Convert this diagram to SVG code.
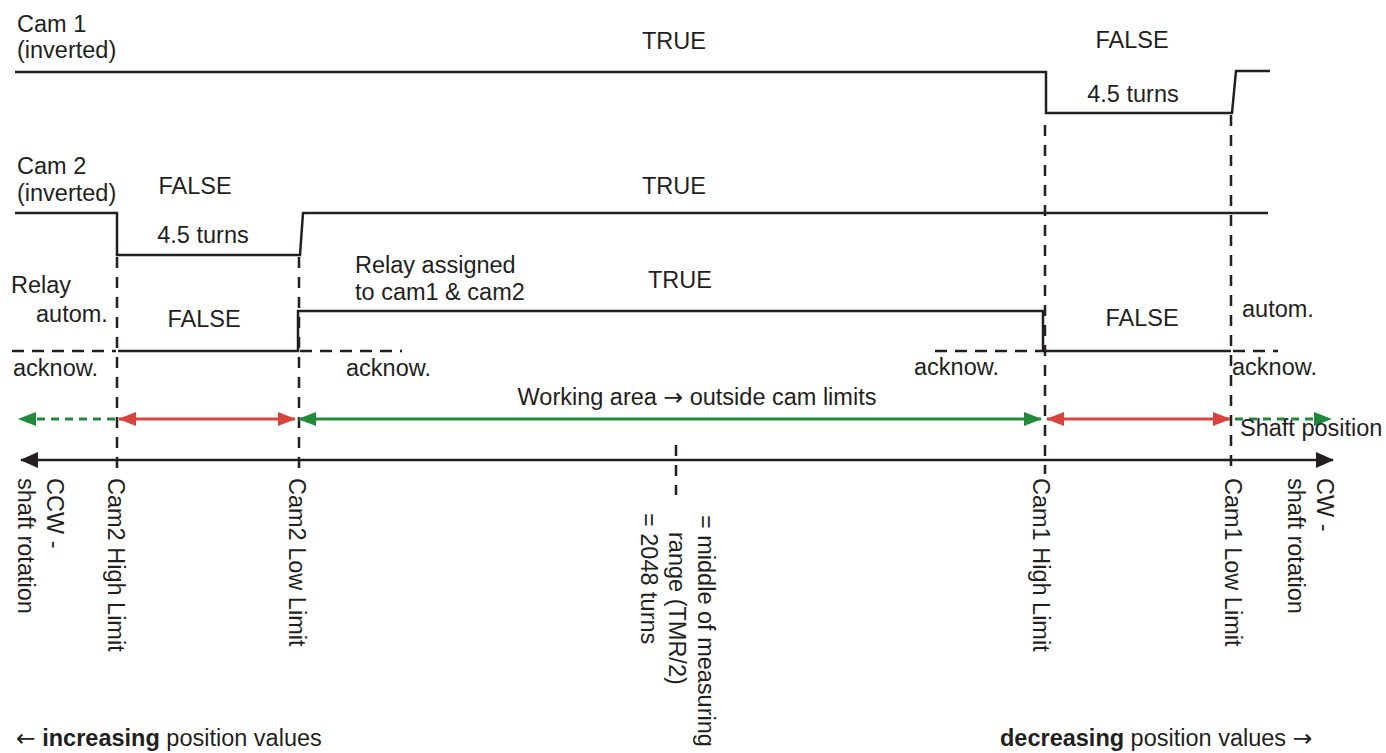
<svg xmlns="http://www.w3.org/2000/svg" width="1386" height="753" viewBox="0 0 1386 753">
<defs>
<style>
text{font-family:"Liberation Sans",Arial,sans-serif;font-size:23.5px;fill:#231f20}
.mid{text-anchor:middle}
.arr{font-family:"DejaVu Sans",sans-serif}
.sig{fill:none;stroke:#231f20;stroke-width:2.5}
.dv{fill:none;stroke:#231f20;stroke-width:2.5;stroke-dasharray:11 9}
.dh{fill:none;stroke:#231f20;stroke-width:2.5;stroke-dasharray:12 8}
.ax{fill:none;stroke:#231f20;stroke-width:2.5}
.red{fill:none;stroke:#d9433f;stroke-width:3}
.grn{fill:none;stroke:#21893a;stroke-width:3}
.grnd{fill:none;stroke:#21893a;stroke-width:3;stroke-dasharray:8 6}
</style>
<marker id="mk" viewBox="0 0 18 16" refX="17" refY="8" markerWidth="18" markerHeight="16" markerUnits="userSpaceOnUse" orient="auto-start-reverse"><path d="M0,0 L18,8 L0,16 z" fill="#231f20"/></marker>
<marker id="mr" viewBox="0 0 18 14" refX="17" refY="7" markerWidth="18" markerHeight="14" markerUnits="userSpaceOnUse" orient="auto-start-reverse"><path d="M0,0 L18,7 L0,14 z" fill="#d9433f"/></marker>
<marker id="mg" viewBox="0 0 18 14" refX="17" refY="7" markerWidth="18" markerHeight="14" markerUnits="userSpaceOnUse" orient="auto-start-reverse"><path d="M0,0 L18,7 L0,14 z" fill="#21893a"/></marker>
</defs>
<rect width="1386" height="753" fill="#ffffff"/>

<g id="connectors">
<path class="sig" d="M15,72 H1046 V113 H1232 L1236,71 H1270"/>
<path class="sig" d="M15,213 H117 V255 H300 L303,213 H1268"/>
<path class="sig" d="M118,351 H298 V311 H1043 V351 H1231"/>
<path class="dh" d="M12,351 H116"/>
<path class="dh" d="M300,351 H402"/>
<path class="dh" d="M935,351 H1042"/>
<path class="dh" d="M1233,351 H1278"/>
<path class="dv" d="M117,257 V474"/>
<path class="dv" d="M299,257 V474"/>
<path class="dv" d="M1045,125 V474"/>
<path class="dv" d="M1231,115 V474"/>
<path class="dv" d="M676,445 V495"/>
<path class="grnd" d="M115,419 H19" marker-end="url(#mg)"/>
<path class="red" d="M119,419 H295" marker-start="url(#mr)" marker-end="url(#mr)"/>
<path class="grn" d="M299,419 H1041" marker-start="url(#mg)" marker-end="url(#mg)"/>
<path class="red" d="M1047,419 H1230" marker-start="url(#mr)" marker-end="url(#mr)"/>
<path class="grnd" d="M1235,419 H1331" marker-end="url(#mg)"/>
<path class="ax" d="M21,460 H1333" marker-start="url(#mk)" marker-end="url(#mk)"/>
</g>

<g id="cam1">
<text x="17" y="32">Cam 1</text>
<text x="17" y="58">(inverted)</text>
<text class="mid" x="674" y="49">TRUE</text>
<text class="mid" x="1132" y="48">FALSE</text>
<text class="mid" x="1133" y="102">4.5 turns</text>
</g>

<g id="cam2">
<text x="17" y="174">Cam 2</text>
<text x="17" y="201">(inverted)</text>
<text class="mid" x="195" y="194">FALSE</text>
<text class="mid" x="203" y="243">4.5 turns</text>
<text class="mid" x="674" y="194">TRUE</text>
</g>

<g id="relay">
<text x="11" y="293">Relay</text>
<text x="36" y="322">autom.</text>
<text class="mid" x="204" y="327">FALSE</text>
<text x="13" y="376">acknow.</text>
<text x="346" y="376">acknow.</text>
<text x="355" y="273">Relay assigned</text>
<text x="355" y="300">to cam1 &amp; cam2</text>
<text class="mid" x="680" y="288">TRUE</text>
<text class="mid" x="1142" y="326">FALSE</text>
<text x="1242" y="317">autom.</text>
<text x="914" y="375">acknow.</text>
<text x="1232" y="375">acknow.</text>
</g>

<g id="ranges">
<text class="mid" x="697" y="405">Working area <tspan class="arr">→</tspan> outside cam limits</text>
<text x="1240" y="436">Shaft position</text>
</g>

<g id="limits">
<text transform="translate(47,478) rotate(90)">CCW -</text>
<text transform="translate(18,478) rotate(90)">shaft rotation</text>
<text transform="translate(108,478) rotate(90)">Cam2 High Limit</text>
<text transform="translate(289,478) rotate(90)">Cam2 Low Limit</text>
<text transform="translate(698,515) rotate(90)">= middle of measuring</text>
<text transform="translate(669,532) rotate(90)">range (TMR/2)</text>
<text transform="translate(641,513) rotate(90)">= 2048 turns</text>
<text transform="translate(1033,478) rotate(90)">Cam1 High Limit</text>
<text transform="translate(1225,478) rotate(90)">Cam1 Low Limit</text>
<text transform="translate(1317,478) rotate(90)">CW -</text>
<text transform="translate(1288,478) rotate(90)">shaft rotation</text>
</g>

<g id="footer">
<text x="16" y="746"><tspan class="arr">←</tspan> <tspan font-weight="bold">increasing</tspan> position values</text>
<text x="1000" y="746"><tspan font-weight="bold">decreasing</tspan> position values <tspan class="arr">→</tspan></text>
</g>
</svg>
